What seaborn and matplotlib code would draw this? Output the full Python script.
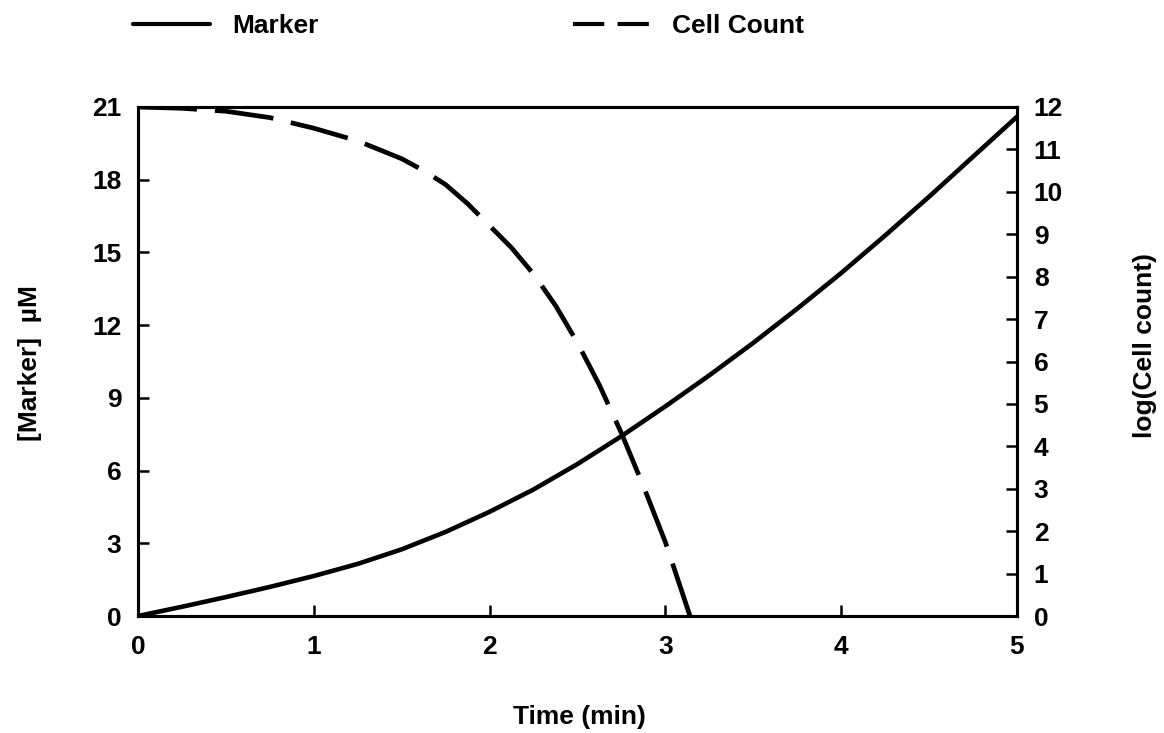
import numpy as np
import pandas as pd
import matplotlib
matplotlib.use("Agg")
import matplotlib.pyplot as plt
from matplotlib.lines import Line2D
import seaborn as sns

# ---- data ----
marker_time = [0, 0.25, 0.5, 0.75, 1.0, 1.25, 1.5, 1.75, 2.0, 2.25, 2.5,
               2.75, 3.0, 3.25, 3.5, 3.75, 4.0, 4.25, 4.5, 4.75, 5.0]
marker_conc = [0, 0.38, 0.78, 1.2, 1.65, 2.15, 2.75, 3.47, 4.3, 5.22, 6.27,
               7.42, 8.65, 9.93, 11.27, 12.68, 14.15, 15.7, 17.3, 18.95, 20.6]

cell_time = [0, 0.25, 0.5, 0.75, 1.0, 1.25, 1.5, 1.625, 1.75, 1.875, 2.0,
             2.125, 2.25, 2.375, 2.5, 2.625, 2.75, 2.875, 3.0, 3.14]
cell_log = [12, 11.97, 11.9, 11.75, 11.5, 11.2, 10.78, 10.5, 10.17, 9.72, 9.2,
            8.68, 8.06, 7.32, 6.44, 5.44, 4.31, 3.06, 1.74, 0]

x_ticks = [0, 1, 2, 3, 4, 5]
left_ticks = [0, 3, 6, 9, 12, 15, 18, 21]
right_ticks = list(range(0, 13))

series_labels = ["Marker", "Cell Count"]
x_label = "Time (min)"
left_label = "[Marker]  \u00b5M"
right_label = "log(Cell count)"

# ---- style ----
sns.set_style("ticks")
plt.rcParams["font.family"] = ["Liberation Sans", "DejaVu Sans"]
plt.rcParams["font.weight"] = "bold"
plt.rcParams["text.color"] = "black"
plt.rcParams["axes.labelcolor"] = "black"
FS = 19

fig = plt.figure(figsize=(11.64, 7.33), dpi=100)
ax = fig.add_axes([138 / 1164, 1 - 616 / 733, (1017 - 138) / 1164, (616 - 107) / 733])
ax2 = ax.twinx()

df_m = pd.DataFrame({"t": marker_time, "v": marker_conc})
df_c = pd.DataFrame({"t": cell_time, "v": cell_log})

sns.lineplot(data=df_m, x="t", y="v", ax=ax, color="black", linewidth=3.3)
sns.lineplot(data=df_c, x="t", y="v", ax=ax2, color="black", linewidth=3.4)
ax2.lines[-1].set_linestyle((0, (12.5, 3.8)))

ax.set_xlim(0, 5)
ax.set_ylim(0, 21)
ax2.set_ylim(0, 12)
ax.set_xticks(x_ticks)
ax.set_yticks(left_ticks)
ax2.set_yticks(right_ticks)

for a in (ax, ax2):
    for s in a.spines.values():
        s.set_linewidth(2.2)
        s.set_color("black")
        s.set_visible(True)

ax.tick_params(axis="x", direction="in", length=8, width=1.8, pad=14,
               labelsize=FS, colors="black")
ax.tick_params(axis="y", direction="in", length=8, width=1.8, pad=12,
               labelsize=FS, colors="black", right=False)
ax2.tick_params(axis="y", direction="in", length=8, width=1.8, pad=12,
                labelsize=FS, colors="black")
for lab in ax.get_xticklabels() + ax.get_yticklabels() + ax2.get_yticklabels():
    lab.set_fontweight("bold")

ax.set_xlabel("")
ax.set_ylabel("")
ax2.set_ylabel("")
fig.text(579 / 1164, 1 - 717 / 733, x_label, ha="center", va="center",
         fontsize=FS, fontweight="bold", color="black")
fig.text(30 / 1164, 1 - 363 / 733, left_label, ha="center", va="center",
         rotation=90, fontsize=FS, fontweight="bold", color="black")
fig.text(1145 / 1164, 1 - 345 / 733, right_label, ha="center", va="center",
         rotation=90, fontsize=FS, fontweight="bold", color="black")

# legend (proxy handles)
h_solid = Line2D([], [], color="black", linewidth=3.0)
h_dash = Line2D([], [], color="black", linewidth=3.0, linestyle=(0, (7.5, 3.2)))
leg1 = fig.legend([h_solid], [series_labels[0]], loc="center left",
                  bbox_to_anchor=(133 / 1164, 1 - 26 / 733), frameon=False,
                  handlelength=2.9, handletextpad=0.85,
                  borderpad=0, borderaxespad=0, prop={"weight": "bold", "size": FS})
leg2 = fig.legend([h_dash], [series_labels[1]], loc="center left",
                  bbox_to_anchor=(573 / 1164, 1 - 26 / 733), frameon=False,
                  handlelength=2.9, handletextpad=0.85,
                  borderpad=0, borderaxespad=0, prop={"weight": "bold", "size": FS})
for leg in (leg1, leg2):
    for t in leg.get_texts():
        t.set_color("black")

fig.savefig("out.png", dpi=100, facecolor="white")
